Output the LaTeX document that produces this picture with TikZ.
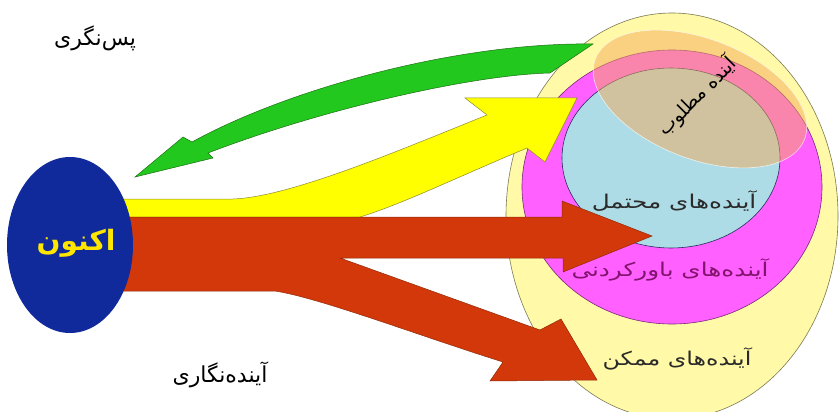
\documentclass[tikz,border=0pt]{standalone}
\usepackage{fontspec}
\usetikzlibrary{shapes.geometric}
\TeXXeTstate=1
\newfontfamily\arabicfont[Script=Arabic]{DejaVu Sans}
\definecolor{outerY}{HTML}{FFF9A8}
\definecolor{outerB}{HTML}{7A7A55}
\definecolor{magF}{HTML}{FF60FF}
\definecolor{magB}{HTML}{7A2A7A}
\definecolor{lblueF}{HTML}{AEDCE6}
\definecolor{lblueB}{HTML}{2A2A60}
\definecolor{orngF}{HTML}{F5AA5A}
\definecolor{greenF}{HTML}{22C81E}
\definecolor{greenB}{HTML}{1E6E14}
\definecolor{yelF}{HTML}{FFFF00}
\definecolor{yelB}{HTML}{8A8A30}
\definecolor{redF}{HTML}{D2380A}
\definecolor{redB}{HTML}{902A08}
\definecolor{nowF}{HTML}{102A9C}
\definecolor{nowT}{HTML}{FFE600}
\definecolor{txtD}{HTML}{2A2A2A}
\definecolor{txtP}{HTML}{82146E}
\tikzset{
  ell/.style={ellipse, inner sep=0pt, line width=0.6pt},
  shapearrow/.style={line width=0.5pt, line join=miter},
  lbl/.style={inner sep=0pt, text=txtD, font=\arabicfont\fontsize{19}{21}\selectfont},
  biglbl/.style={inner sep=0pt, text=black, font=\arabicfont\fontsize{22}{24}\selectfont}
}
\begin{document}
\begin{tikzpicture}[x=1pt,y=-1pt]
\useasboundingbox (0,0) rectangle (839,412);
\clip (0,0) rectangle (839,412);
\fill[white] (0,0) rectangle (839,412);
% nested futures
\node[ell, fill=outerY, draw=outerB, minimum width=332pt, minimum height=406pt] (possible) at (672,216) {};
\node[ell, fill=magF, draw=magB, minimum width=300pt, minimum height=274pt] (plausible) at (672,187) {};
\node[ell, fill=lblueF, draw=lblueB, minimum width=218pt, minimum height=180pt] (probable) at (671,158) {};
\node[ell, fill=orngF, fill opacity=0.5, draw=white, draw opacity=0.7, rotate=-21, minimum width=224pt, minimum height=120pt] (preferable) at (700,99) {};
% green arrow (backcasting)
\draw[shapearrow, fill=greenF, draw=greenB] (135,177) -- (183,137) -- (192,142)
  .. controls (290,88) and (460,42) .. (593,44) -- (550,73)
  .. controls (470,75) and (320,110) .. (208,153) -- (213,158) -- cycle;
% yellow arrow
\draw[shapearrow, fill=yelF, draw=yelB] (120,199) -- (233,199)
  .. controls (290,197) and (400,150) .. (487,115) -- (465,98) -- (577,98) -- (545,162) -- (527,148)
  .. controls (460,176) and (400,205) .. (360,217) -- (120,217) -- cycle;
% red arrows
\draw[shapearrow, fill=redF, draw=redB] (120,217) -- (562,217) -- (562,201) -- (652,236) -- (563,272) -- (563,258)
  -- (340,258) -- (540,330) -- (561,319) -- (597,380) -- (490,381) -- (503,362)
  .. controls (420,336) and (320,298) .. (275,291) -- (120,291) -- cycle;
% now
\node[ell, fill=nowF, draw=none, minimum width=126pt, minimum height=176pt] (now) at (70,245) {};
\node[inner sep=0pt, text=nowT, font=\arabicfont\bfseries\fontsize{28}{30}\selectfont] (nowlbl) at (76,243) {\beginR اکنون\endR};
% labels
\node[biglbl] (back) at (95,38) {\beginR پس‌نگری\endR};
\node[biglbl] (fore) at (220,375) {\beginR آینده‌نگاری\endR};
\node[lbl, text=black, rotate=45] (preflbl) at (697,96) {\beginR آینده مطلوب\endR};
\node[lbl] (problbl) at (674,201) {\scalebox{1.3}[1]{\beginR آینده‌های محتمل\endR}};
\node[lbl, text=txtP] (plaulbl) at (670,270) {\scalebox{1.3}[1]{\beginR آینده‌های باورکردنی\endR}};
\node[lbl] (posslbl) at (677,359) {\scalebox{1.25}[1]{\beginR آینده‌های ممکن\endR}};
\end{tikzpicture}
\end{document}
